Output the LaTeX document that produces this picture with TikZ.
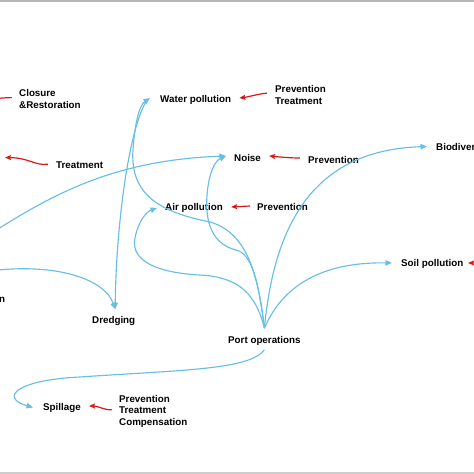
\documentclass[tikz,border=0pt]{standalone}
\usepackage{fontspec}
\setmainfont{Liberation Sans}
\usetikzlibrary{arrows.meta}
\definecolor{flow}{RGB}{105,190,230}
\definecolor{ctrl}{RGB}{215,25,25}
\definecolor{barA}{RGB}{182,182,182}
\definecolor{barB}{RGB}{205,205,205}
\begin{document}
\begin{tikzpicture}[x=1pt,y=-1pt,
  lbl/.style={inner sep=0pt, anchor=base west, font=\fontsize{9.8}{11.6}\selectfont\bfseries, text=black},
  mlbl/.style={lbl, align=left, anchor=north west},
  flowarr/.style={draw=flow, line width=1.15pt, -{Triangle[length=6.5pt,width=5.5pt]}},
  ctrlarr/.style={draw=ctrl, line width=1.2pt, -{Stealth[length=6pt,width=5pt,inset=1pt]}}]
\useasboundingbox (0,0) rectangle (474,474);
\fill[barA] (0,0) rectangle (474,2);
\fill[barB] (0,471.5) rectangle (474,474);

% labels
\node[mlbl] (closure) at (19,89.5) {Closure\\\&Restoration};
\node[lbl] (treatL) at (56,168.5) {Treatment};
\node[lbl] (water) at (160,102.5) {Water pollution};
\node[mlbl] (wpPrev) at (275,85.5) {Prevention\\Treatment};
\node[lbl] (noise) at (234,161.5) {Noise};
\node[lbl] (noisePrev) at (308,163) {Prevention};
\node[lbl] (bio) at (436,150) {Biodiver};
\node[lbl] (air) at (165,210.5) {Air pollution};
\node[lbl] (airPrev) at (257,210.5) {Prevention};
\node[lbl] (soil) at (401,266.5) {Soil pollution};
\node[lbl] (nleft) at (-1,302) {n};
\node[lbl] (dredg) at (92,323.5) {Dredging};
\node[lbl] (port) at (228,343.5) {Port operations};
\node[lbl] (spill) at (43,410) {Spillage};
\node[mlbl] (spillPrev) at (119,395) {Prevention\\Treatment\\Compensation};

% free ends off the picture
\coordinate (srcA) at (-2,229);
\coordinate (srcB) at (-2,270);
\coordinate (offC) at (-9,98);
\coordinate (offT) at (5,157.5);
\coordinate (offS) at (485,263);
\coordinate (pj) at ([shift={(0,-8)}]port.north);

% blue flows
\draw[flowarr] (srcA) .. controls (60,190) and (120,160) .. ([shift={(-8,-2)}]noise.west);
\draw[flowarr] (srcB) .. controls (60,264) and (105,280) .. ([shift={(1.5,-7)}]dredg.north);
\draw[flowarr] ([shift={(-13,0)}]water.west) .. controls (128,130) and (116,230) .. ([shift={(1.5,-7)}]dredg.north);
\draw[flowarr] (pj) .. controls (258,270) and (245,232) .. (210,222)
  .. controls (160,212) and (130,195) .. (133,150)
  .. controls (135,120) and (140,105) .. ([shift={(-10,-2)}]water.west);
\draw[flowarr] (pj) .. controls (255,290) and (235,277) .. (200,275)
  .. controls (160,273) and (130,262) .. (135,238)
  .. controls (138,222) and (146,212) .. ([shift={(-8,0)}]air.west);
\draw[flowarr] (pj) .. controls (258,280) and (252,254) .. (236,250)
  .. controls (212,244) and (205,222) .. (207,195)
  .. controls (209,172) and (215,161) .. ([shift={(-8,-2)}]noise.west);
\draw[flowarr] (pj) .. controls (275,215) and (320,150) .. ([shift={(-9,0)}]bio.west);
\draw[flowarr] (pj) .. controls (285,280) and (330,262) .. ([shift={(-9,-1)}]soil.west);
\draw[flowarr] ([shift={(0,4)}]port.south) .. controls (250,370) and (180,370) .. (80,377)
  .. controls (15,380) and (0,398) .. ([shift={(-10,0)}]spill.west);

% red controls
\draw[ctrlarr] ([shift={(-7,-1.5)}]closure.west) .. controls (6,97.5) and (0,98.5) .. (offC);
\draw[ctrlarr] ([shift={(-8,-1)}]treatL.west) .. controls (35,166) and (30,158) .. (offT);
\draw[ctrlarr] ([shift={(-8,-2)}]wpPrev.west) .. controls (258,94) and (248,97) .. ([shift={(8,-2)}]water.east);
\draw[ctrlarr] ([shift={(-8,-1.5)}]noisePrev.west) .. controls (290,158) and (280,157) .. ([shift={(8,-2)}]noise.east);
\draw[ctrlarr] ([shift={(-7,-1)}]airPrev.west) -- ([shift={(8,-1)}]air.east);
\draw[ctrlarr] ([shift={(-7,-1.5)}]spillPrev.west) .. controls (104,410) and (98,406) .. ([shift={(8,-1.5)}]spill.east);
\draw[ctrlarr] (offS) -- ([shift={(4.5,-1)}]soil.east);
\end{tikzpicture}
\end{document}
